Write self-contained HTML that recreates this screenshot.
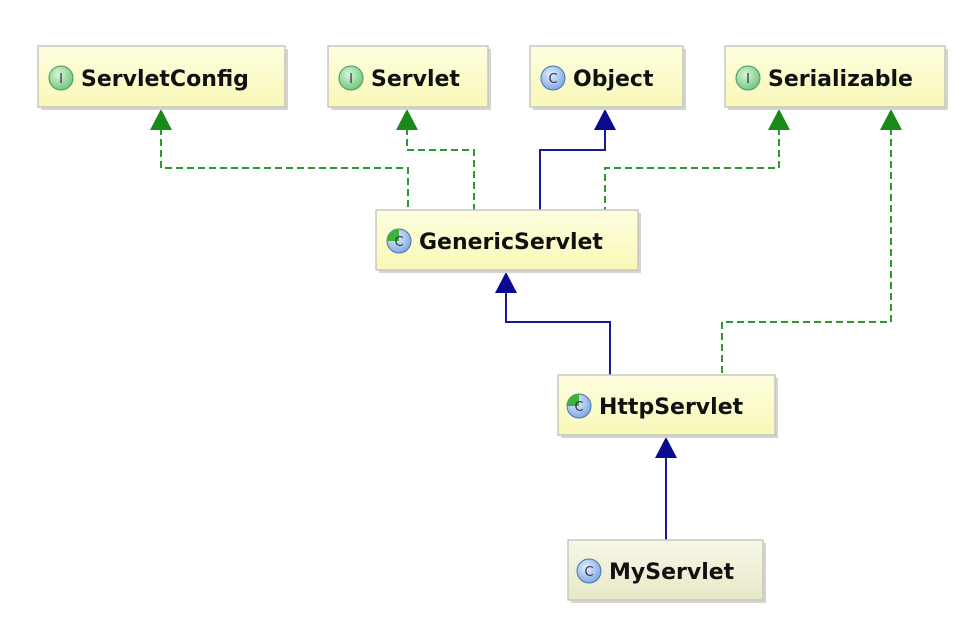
<!DOCTYPE html>
<html><head><meta charset="utf-8"><style>
html,body{margin:0;padding:0;background:#fff;}
svg text{font-family:"DejaVu Sans","Liberation Sans",sans-serif;font-weight:bold;font-size:22px;fill:#111;}
</style></head><body>
<svg width="962" height="630" viewBox="0 0 962 630" xmlns="http://www.w3.org/2000/svg">
<defs>
<linearGradient id="y" x1="0" y1="0" x2="0" y2="1"><stop offset="0" stop-color="#fefee0"/><stop offset="1" stop-color="#f8f8b8"/></linearGradient>
<linearGradient id="g" x1="0" y1="0" x2="0" y2="1"><stop offset="0" stop-color="#f7f7e8"/><stop offset="1" stop-color="#e8e8c8"/></linearGradient>
<radialGradient id="ig" cx="0.4" cy="0.35" r="0.7"><stop offset="0" stop-color="#d8f5d8"/><stop offset="1" stop-color="#6cc47c"/></radialGradient>
<radialGradient id="cb" cx="0.4" cy="0.35" r="0.7"><stop offset="0" stop-color="#e4eefc"/><stop offset="1" stop-color="#7aa4e0"/></radialGradient>
</defs>
<g fill="none" stroke-width="2">
<path d="M161 128 V168 H408 V210" stroke="#2a9a2a" stroke-dasharray="7,4"/>
<path d="M407 128 V150 H474 V210" stroke="#2a9a2a" stroke-dasharray="7,4"/>
<path d="M779 128 V168 H605 V210" stroke="#2a9a2a" stroke-dasharray="7,4"/>
<path d="M891 128 V322 H722 V375" stroke="#2a9a2a" stroke-dasharray="7,4"/>
<path d="M605 128 V150 H540 V210" stroke="#1a1a99"/>
<path d="M506 292 V322 H610 V375" stroke="#1a1a99"/>
<path d="M666 457 V540" stroke="#1a1a99"/>
</g>
<g fill="#178a17">
<polygon points="161,109 150,130 172,130"/>
<polygon points="407,109 396,130 418,130"/>
<polygon points="779,109 768,130 790,130"/>
<polygon points="891,109 880,130 902,130"/>
</g>
<g fill="#0a0a90">
<polygon points="605,109 594,130 616,130"/>
<polygon points="506,272 495,293 517,293"/>
<polygon points="666,437 655,458 677,458"/>
</g>
<g fill="#d4d4d0">
<rect x="41" y="49" width="247" height="61"/>
<rect x="331" y="49" width="160" height="61"/>
<rect x="533" y="49" width="153" height="61"/>
<rect x="728" y="49" width="220" height="61"/>
<rect x="379" y="213" width="262" height="60"/>
<rect x="561" y="378" width="217" height="60"/>
<rect x="571" y="543" width="195" height="60"/>
</g>
<g stroke="#c8c8c0" stroke-width="1.5">
<rect x="38" y="46" width="247" height="61" fill="url(#y)"/>
<rect x="328" y="46" width="160" height="61" fill="url(#y)"/>
<rect x="530" y="46" width="153" height="61" fill="url(#y)"/>
<rect x="725" y="46" width="220" height="61" fill="url(#y)"/>
<rect x="376" y="210" width="262" height="60" fill="url(#y)"/>
<rect x="558" y="375" width="217" height="60" fill="url(#y)"/>
<rect x="568" y="540" width="195" height="60" fill="url(#g)"/>
</g>
<g stroke-width="1">
<circle cx="61" cy="78" r="12" fill="url(#ig)" stroke="#4a9a5a"/>
<circle cx="351" cy="78" r="12" fill="url(#ig)" stroke="#4a9a5a"/>
<circle cx="553" cy="78" r="12" fill="url(#cb)" stroke="#4a74b0"/>
<circle cx="748" cy="78" r="12" fill="url(#ig)" stroke="#4a9a5a"/>
<circle cx="399" cy="241" r="12" fill="url(#cb)" stroke="#4a74b0"/>
<circle cx="579" cy="406" r="12" fill="url(#cb)" stroke="#4a74b0"/>
<circle cx="589" cy="571" r="12" fill="url(#cb)" stroke="#4a74b0"/>
</g>
<path d="M399 241 V229 A12 12 0 0 0 387 241 Z" fill="#3cb43c"/>
<path d="M579 406 V394 A12 12 0 0 0 567 406 Z" fill="#3cb43c"/>
<g text-anchor="middle">
<text x="61" y="83" style="font-size:13px;font-weight:normal;fill:#335">I</text>
<text x="351" y="83" style="font-size:13px;font-weight:normal;fill:#335">I</text>
<text x="553" y="83" style="font-size:13px;font-weight:normal;fill:#335">C</text>
<text x="748" y="83" style="font-size:13px;font-weight:normal;fill:#335">I</text>
<text x="399" y="246" style="font-size:13px;font-weight:normal;fill:#335">C</text>
<text x="579" y="411" style="font-size:13px;font-weight:normal;fill:#335">C</text>
<text x="589" y="576" style="font-size:13px;font-weight:normal;fill:#335">C</text>
</g>
<text x="81" y="86">ServletConfig</text>
<text x="371" y="86">Servlet</text>
<text x="573" y="86">Object</text>
<text x="768" y="86">Serializable</text>
<text x="419" y="249">GenericServlet</text>
<text x="599" y="414">HttpServlet</text>
<text x="609" y="579">MyServlet</text>
</svg>
</body></html>
